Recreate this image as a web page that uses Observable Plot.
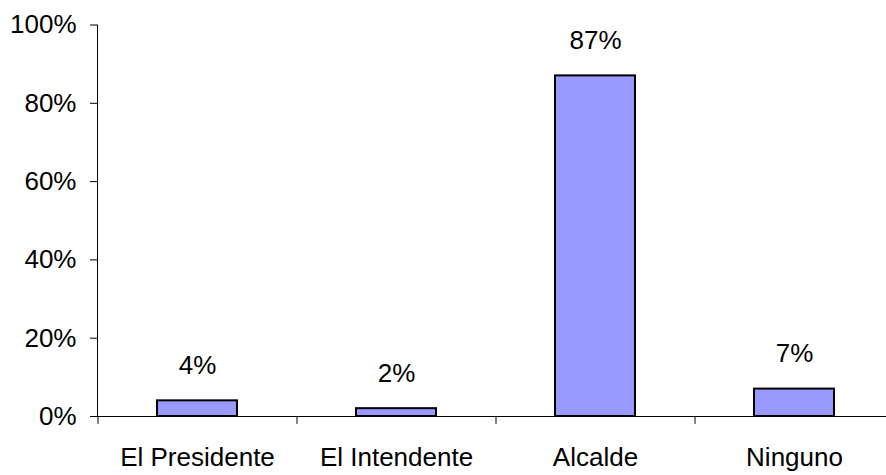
<!DOCTYPE html>
<html>
<head>
<meta charset="utf-8">
<script src="https://cdn.jsdelivr.net/npm/d3@7"></script>
<script src="https://cdn.jsdelivr.net/npm/@observablehq/plot@0.6"></script>
<style>
  html, body { margin: 0; padding: 0; background: #fff; }
  svg { display: block; }
</style>
</head>
<body>
<div id="chart"></div>
<script>
const categories = ["El Presidente", "El Intendente", "Alcalde", "Ninguno"];
const values = [4, 2, 87, 7];
const yTicks = [0, 20, 40, 60, 80, 100];

const data = categories.map((c, i) => ({cat: c, val: values[i]}));

const W = 886, H = 475;
const left = 97, right = 893;
const step = (right - left) / categories.length;
const font = "Liberation Sans, Arial, Helvetica, sans-serif";

const chart = Plot.plot({
  width: W,
  height: H,
  marginLeft: left,
  marginRight: 0,
  marginTop: 24.5,
  marginBottom: 59,
  style: {fontFamily: font, color: "black", background: "white"},
  x: {domain: categories, range: [left, right], paddingInner: 0.6, paddingOuter: 0.3, label: null},
  y: {domain: [0, 100], label: null},
  marks: [
    Plot.barY(data, {x: "cat", y: "val", fill: "#9999ff", stroke: "black", strokeWidth: 2}),
    Plot.text(data, {x: "cat", y: "val", text: d => d.val + "%", dy: -35, fontSize: 26, fill: "black"}),
    Plot.ruleY([0], {stroke: "black", strokeWidth: 1}),
    Plot.frame({anchor: "left", stroke: "black", strokeWidth: 1}),
    Plot.ruleX(categories, {x: d => d, y1: 0, y2: -2, dx: -step / 2, stroke: "black", strokeWidth: 1}),
    Plot.axisY({ticks: yTicks, tickSize: 7, tickPadding: 14, tickFormat: d => d + "%", fontSize: 26, label: null}),
    Plot.axisX({tickSize: 0, tickPadding: 31, fontSize: 26, label: null})
  ]
});
document.getElementById("chart").appendChild(chart);
</script>
</body>
</html>
